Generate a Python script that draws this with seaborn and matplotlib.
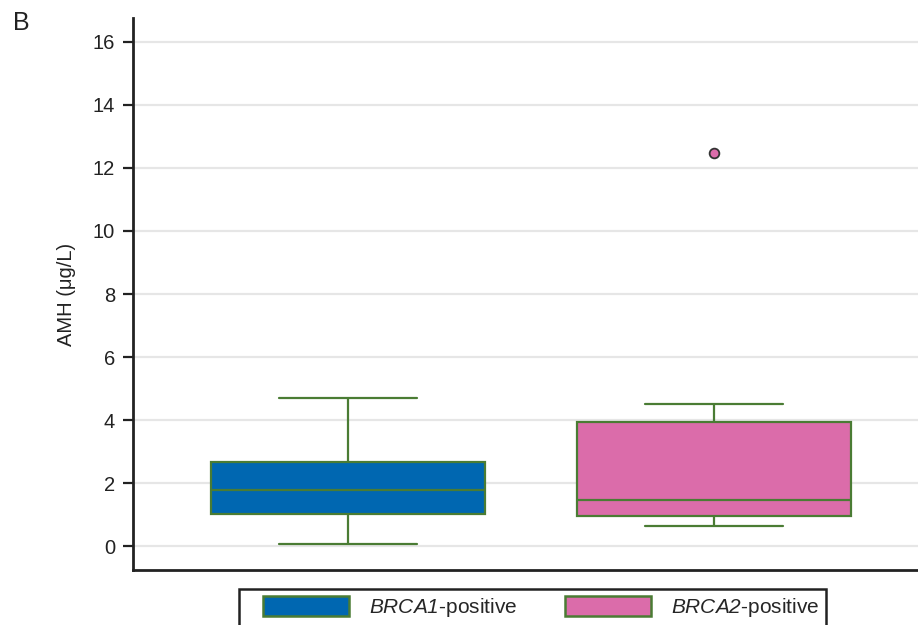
import matplotlib
matplotlib.use("Agg")
import matplotlib.pyplot as plt
import seaborn as sns
import pandas as pd
from matplotlib.patches import Patch, Rectangle

# Data (samples reproduce the drawn box statistics)
groups = ["BRCA1-positive", "BRCA2-positive"]
brca1_amh = [0.07, 0.6, 1.02, 1.4, 1.78, 2.2, 2.67, 3.5, 4.70]
brca2_amh = [0.63, 0.8, 0.95, 1.2, 1.46, 2.5, 3.94, 4.51, 12.48]
legend_labels = [r"$\mathit{BRCA1}$-positive", r"$\mathit{BRCA2}$-positive"]
y_ticks = [0, 2, 4, 6, 8, 10, 12, 14, 16]

blue = "#0067b1"
pink = "#db6caa"
green = "#4a7c34"

df = pd.DataFrame({
    "group": [groups[0]] * len(brca1_amh) + [groups[1]] * len(brca2_amh),
    "AMH": brca1_amh + brca2_amh,
})

sns.set_theme(style="white")
plt.rcParams["font.family"] = ["Liberation Sans", "DejaVu Sans"]
plt.rcParams["mathtext.fontset"] = "custom"
plt.rcParams["mathtext.it"] = "Liberation Sans:italic"
plt.rcParams["mathtext.rm"] = "Liberation Sans:italic"

fig = plt.figure(figsize=(9.18, 6.25), dpi=100)
ax = fig.add_axes([133 / 918, 55 / 625, 1 - 133 / 918, (570 - 18) / 625])

sns.boxplot(
    data=df, x="group", y="AMH", hue="group", order=groups, hue_order=groups,
    palette=[blue, pink], linecolor=green, linewidth=1.6, width=0.75,
    saturation=1, legend=False, ax=ax,
    flierprops=dict(marker="o", markerfacecolor=pink, markeredgecolor="#333333",
                    markersize=7, markeredgewidth=1.3),
    whiskerprops=dict(color=green), capprops=dict(color=green),
    medianprops=dict(color=green),
)
for ln in ax.lines:
    if ln.get_marker() == "o":
        ln.set_markerfacecolor(pink)
        ln.set_markeredgecolor("#333333")

ax.set_xlim(-0.587, 1.557)
ax.set_ylim(-0.76, 16.76)
ax.set_yticks(y_ticks)
ax.set_yticklabels([str(t) for t in y_ticks], fontsize=14.5, color="#222222")
ax.set_xticks([])
ax.set_xlabel("")
ax.set_ylabel("AMH (μg/L)", fontsize=14.5, color="#222222", labelpad=12)
ax.yaxis.grid(True, color="#e6e6e6", linewidth=1.6, zorder=0)
ax.set_axisbelow(True)
ax.tick_params(axis="y", left=True, length=7, width=1.6, color="#222222", pad=6)
for side in ["top", "right"]:
    ax.spines[side].set_visible(False)
for side in ["left", "bottom"]:
    ax.spines[side].set_linewidth(2)
    ax.spines[side].set_color("#222222")

fig.text(13 / 918, 1 - 11 / 625, "B", fontsize=18, va="top", ha="left", color="#222222")

# Legend frame
fig.patches.append(Rectangle((239 / 918, -0.05), (826 - 239) / 918, 1 - 589 / 625 + 0.05,
                             transform=fig.transFigure, fill=False,
                             edgecolor="#222222", linewidth=1.8, clip_on=False))
handles = [Patch(facecolor=blue, edgecolor=green, linewidth=1.8),
           Patch(facecolor=pink, edgecolor=green, linewidth=1.8)]
fig.legend(handles, legend_labels, loc="upper left",
           bbox_to_anchor=(263 / 918, 1 - 596 / 625), ncol=2, frameon=False,
           borderpad=0, borderaxespad=0, fontsize=15, handlelength=4.13,
           handleheight=1.1, handletextpad=0.96, columnspacing=2.26)

fig.savefig("out.png", dpi=100)
